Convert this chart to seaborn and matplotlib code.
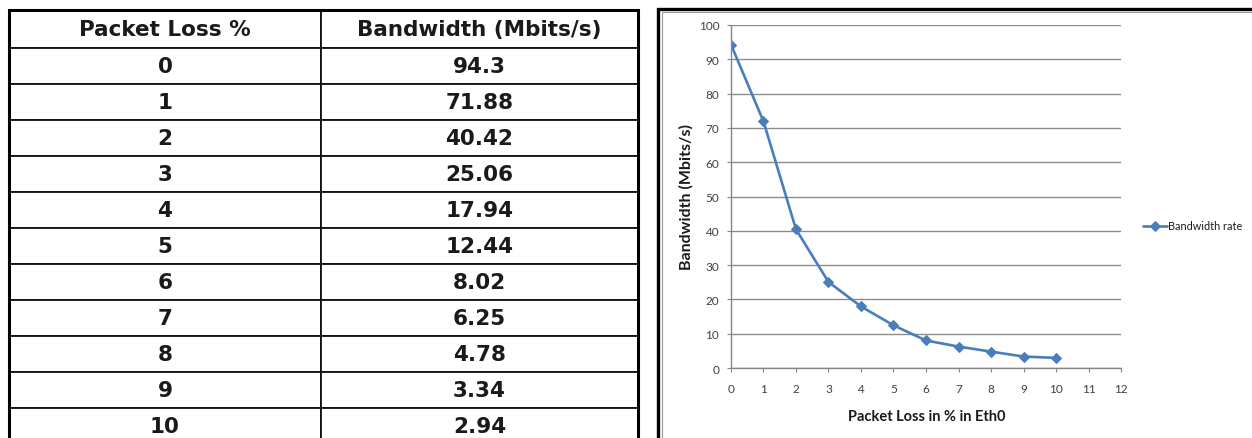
import matplotlib
matplotlib.use("Agg")
import matplotlib.pyplot as plt
import seaborn as sns
import pandas as pd
from matplotlib.patches import Rectangle

# ---- data ----
packet_loss = [0, 1, 2, 3, 4, 5, 6, 7, 8, 9, 10]
bandwidth = [94.3, 71.88, 40.42, 25.06, 17.94, 12.44, 8.02, 6.25, 4.78, 3.34, 2.94]
bandwidth_labels = ["94.3", "71.88", "40.42", "25.06", "17.94", "12.44",
                    "8.02", "6.25", "4.78", "3.34", "2.94"]
col_headers = ["Packet Loss %", "Bandwidth (Mbits/s)"]
series_name = "Bandwidth rate"
x_label = "Packet Loss in % in Eth0"
y_label = "Bandwidth (Mbits/s)"
x_ticks = list(range(0, 13))
y_ticks = list(range(0, 101, 10))

sns.set_theme(style="white")
plt.rcParams['font.family'] = ['Lato', 'DejaVu Sans']

W, H = 1252, 439
fig = plt.figure(figsize=(W / 100, H / 100), dpi=100)
fig.patch.set_facecolor("white")


def fx(px):
    return px / W


def fy(py):
    return 1 - py / H


# ---- table (left) ----
tax = fig.add_axes([fx(9), fy(445), fx(638) - fx(9), fy(11) - fy(445)])
tax.axis("off")
cell_text = [[str(p), b] for p, b in zip(packet_loss, bandwidth_labels)]
tbl = tax.table(cellText=cell_text, colLabels=col_headers, cellLoc="center",
                bbox=[0, 0, 1, 1], colWidths=[312 / 629, 317 / 629])
tbl.auto_set_font_size(False)
tbl.set_fontsize(15.5)
for (r, c), cell in tbl.get_celld().items():
    cell.set_linewidth(1.3)
    cell.set_edgecolor("#111111")
    t = cell.get_text()
    t.set_fontweight("bold")
    t.set_color("#1a1a1a")
    t.set_fontfamily(["DejaVu Sans"])
    if r == 0:
        cell.set_height(38)
    else:
        cell.set_height(36)
tax.add_patch(Rectangle((0, 0), 1, 1, transform=tax.transAxes, fill=False,
                        edgecolor="black", linewidth=2.2, clip_on=False))

# ---- chart panel border ----
fig.patches.append(Rectangle((fx(658), fy(460)), fx(1270) - fx(658), fy(10) - fy(460),
                             transform=fig.transFigure, fill=False,
                             edgecolor="black", linewidth=2.4))
fig.patches.append(Rectangle((fx(662), fy(460)), fx(1270) - fx(662), fy(13) - fy(460),
                             transform=fig.transFigure, fill=False,
                             edgecolor="#9a9a9a", linewidth=0.8))

# ---- chart ----
ax = fig.add_axes([fx(731), fy(369), fx(1121) - fx(731), fy(26) - fy(369)])
df = pd.DataFrame({"Packet Loss": packet_loss, "Bandwidth": bandwidth})
line_color = "#4A7EBB"
sns.lineplot(data=df, x="Packet Loss", y="Bandwidth", ax=ax, color=line_color,
             marker="D", markersize=5.5, markeredgecolor=line_color,
             linewidth=1.9, label=series_name)
ax.set_xlim(0, 12)
ax.set_ylim(0, 100)
ax.set_xticks(x_ticks)
ax.set_yticks(y_ticks)
ax.yaxis.grid(True, color="#8c8c8c", linewidth=1.0)
ax.xaxis.grid(False)
ax.set_axisbelow(True)
for s in ["top", "right"]:
    ax.spines[s].set_visible(False)
for s in ["left", "bottom"]:
    ax.spines[s].set_color("#868686")
    ax.spines[s].set_linewidth(1.0)
ax.tick_params(axis="both", direction="out", length=3, width=0.8, color="#868686",
               labelsize=8.5, labelcolor="#404040", left=True, bottom=True)
ax.tick_params(axis="y", pad=5.5)
ax.tick_params(axis="x", pad=7.5)

ax.set_xlabel(x_label, fontsize=10.5, fontweight="bold", color="#1a1a1a")
ax.set_ylabel(y_label, fontsize=11.5, fontweight="bold", color="#1a1a1a")
ax.xaxis.set_label_coords((927 - 731) / 390, (369 - 417) / 343)
ax.xaxis.label.set_va("center")
ax.yaxis.set_label_coords((686 - 731) / 390, (369 - 197) / 343)
ax.yaxis.label.set_va("center")

ax.legend(loc="center left", bbox_to_anchor=(fx(1143), fy(227)),
          bbox_transform=fig.transFigure, frameon=False, fontsize=7.8,
          handlelength=2.2, handletextpad=0.15, borderaxespad=0, borderpad=0,
          numpoints=1, labelcolor="#1a1a1a")

fig.savefig("out.png", dpi=100, facecolor="white")
